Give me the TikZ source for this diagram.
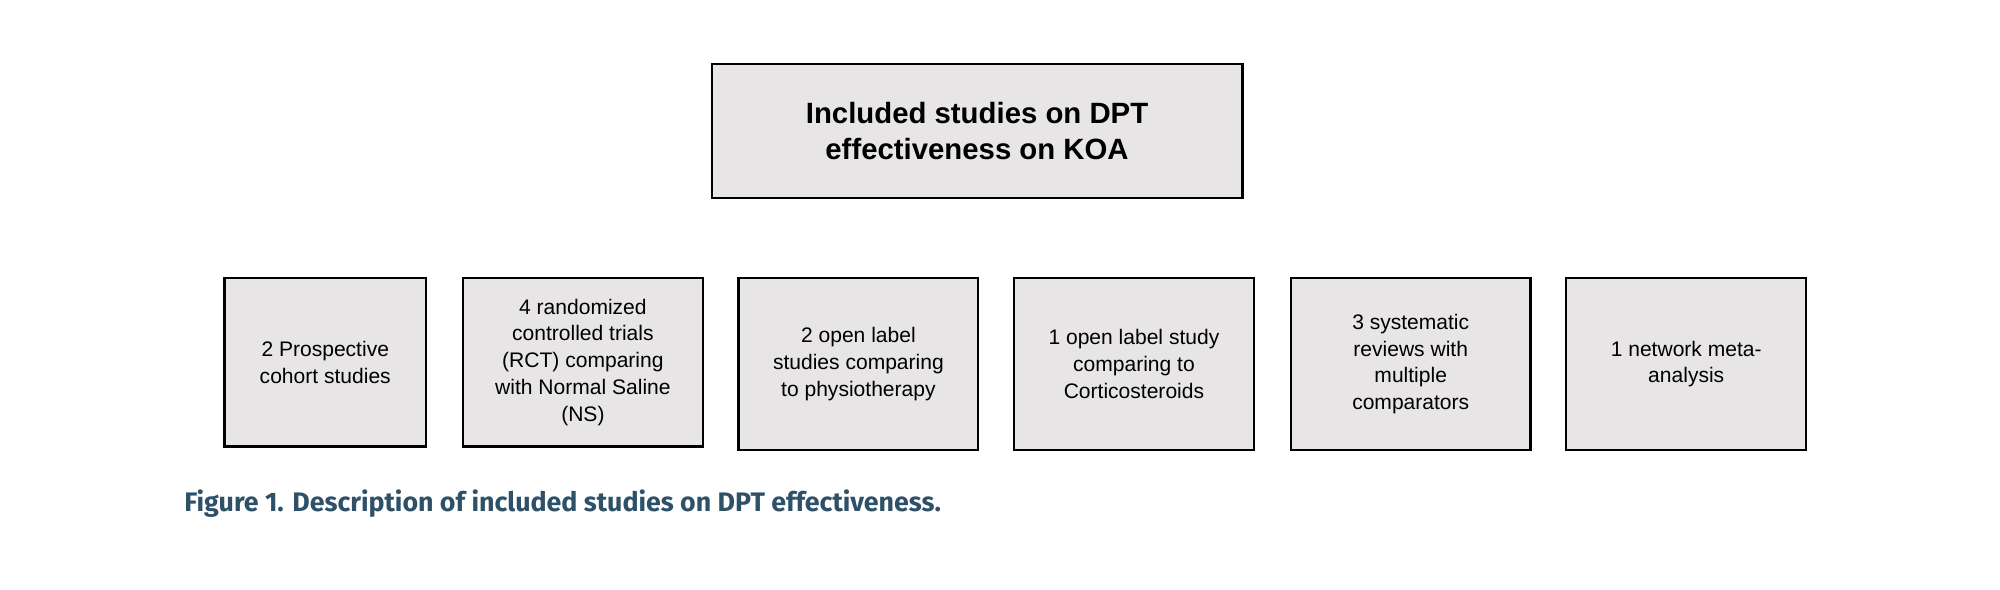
\documentclass[tikz,border=0pt]{standalone}
\usepackage{fontspec}
\setmainfont{Liberation Sans}
\newfontfamily\capfont{Fira Sans}
\definecolor{boxfill}{HTML}{E7E5E6}
\definecolor{capcol}{HTML}{2E5168}
\begin{document}
\begin{tikzpicture}[x=1pt,y=-1pt]
\useasboundingbox (0,0) rectangle (1568,462);
\tikzset{bx/.style={draw=black,line width=1.8pt,fill=boxfill,align=center,font=\fontsize{16.5}{21}\selectfont}}
\node[bx,minimum width=416pt,minimum height=105pt,font=\bfseries\fontsize{23}{28}\selectfont] (top) at (766,102.5) {Included studies on DPT\\effectiveness on KOA};
\node[bx,minimum width=158pt,minimum height=132pt] (a) at (255,284) {2 Prospective\\cohort studies};
\node[bx,minimum width=188pt,minimum height=132pt] (b) at (457,284) {4 randomized\\controlled trials\\(RCT) comparing\\with Normal Saline\\(NS)};
\node[bx,minimum width=188pt,minimum height=135pt] (c) at (673,285.5) {2 open label\\studies comparing\\to physiotherapy};
\node[bx,minimum width=188pt,minimum height=135pt] (d) at (889,285.5) {1 open label study\\comparing to\\Corticosteroids};
\node[bx,minimum width=188pt,minimum height=135pt] (e) at (1106,285.5) {3 systematic\\reviews with\\multiple\\comparators};
\node[bx,minimum width=188pt,minimum height=135pt] (f) at (1322,285.5) {1 network meta-\\analysis};
\node[anchor=west,text=capcol,font=\capfont\bfseries\fontsize{21}{24}\selectfont] (cap) at (141,395) {Figure 1. Description of included studies on DPT effectiveness.};
\end{tikzpicture}
\end{document}
